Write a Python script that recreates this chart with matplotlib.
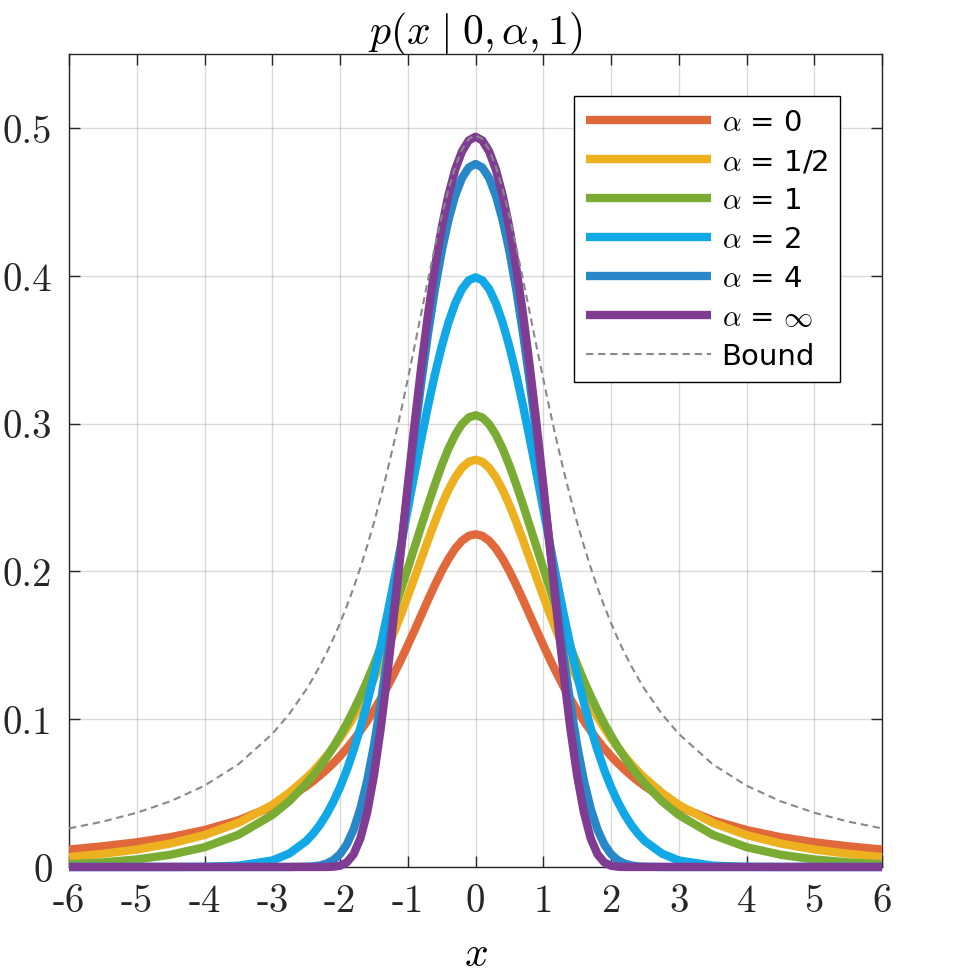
import numpy as np
import matplotlib.pyplot as plt

plt.rcParams['mathtext.fontset'] = 'cm'

# sample positions (fine in the core, coarse in the tails)
x = [-6, -5.5, -5, -4.5, -4, -3.5, -3, -2.75, -2.5, -2.4, -2.3, -2.2, -2.1, -2, -1.9, -1.8, -1.7,
     -1.6, -1.5, -1.4, -1.3, -1.2, -1.1, -1, -0.9, -0.8, -0.7, -0.6, -0.5, -0.4, -0.3, -0.2, -0.1,
     0, 0.1, 0.2, 0.3, 0.4, 0.5, 0.6, 0.7, 0.8, 0.9, 1, 1.1, 1.2, 1.3, 1.4, 1.5, 1.6, 1.7, 1.8,
     1.9, 2, 2.1, 2.2, 2.3, 2.4, 2.5, 2.75, 3, 3.5, 4, 4.5, 5, 5.5, 6]

p_a0 = [0.0118, 0.0140, 0.0167, 0.0202, 0.0250, 0.0316, 0.0409, 0.0471, 0.0546, 0.0580, 0.0618,
        0.0658, 0.0702, 0.0750, 0.0802, 0.0859, 0.0921, 0.0987, 0.1059, 0.1137, 0.1220, 0.1309,
        0.1402, 0.1501, 0.1602, 0.1705, 0.1808, 0.1908, 0.2001, 0.2084, 0.2154, 0.2207, 0.2240,
        0.2251,
        0.2240, 0.2207, 0.2154, 0.2084, 0.2001, 0.1908, 0.1808, 0.1705, 0.1602, 0.1501, 0.1402,
        0.1309, 0.1220, 0.1137, 0.1059, 0.0987, 0.0921, 0.0859, 0.0802, 0.0750, 0.0702, 0.0658,
        0.0618, 0.0580, 0.0546, 0.0471, 0.0409, 0.0316, 0.0250, 0.0202, 0.0167, 0.0140, 0.0118]

p_a05 = [0.0067, 0.0089, 0.0118, 0.0159, 0.0216, 0.0299, 0.0420, 0.0502, 0.0601, 0.0646, 0.0696,
         0.0750, 0.0808, 0.0871, 0.0940, 0.1014, 0.1094, 0.1180, 0.1273, 0.1372, 0.1478, 0.1590,
         0.1708, 0.1831, 0.1957, 0.2085, 0.2212, 0.2334, 0.2449, 0.2551, 0.2636, 0.2701, 0.2741,
         0.2755,
         0.2741, 0.2701, 0.2636, 0.2551, 0.2449, 0.2334, 0.2212, 0.2085, 0.1957, 0.1831, 0.1708,
         0.1590, 0.1478, 0.1372, 0.1273, 0.1180, 0.1094, 0.1014, 0.0940, 0.0871, 0.0808, 0.0750,
         0.0696, 0.0646, 0.0601, 0.0502, 0.0420, 0.0299, 0.0216, 0.0159, 0.0118, 0.0089, 0.0067]

p_a1 = [0.0019, 0.0031, 0.0051, 0.0083, 0.0134, 0.0218, 0.0352, 0.0445, 0.0563, 0.0617, 0.0676,
        0.0741, 0.0812, 0.0888, 0.0970, 0.1060, 0.1156, 0.1259, 0.1369, 0.1487, 0.1611, 0.1742,
        0.1879, 0.2020, 0.2164, 0.2308, 0.2451, 0.2588, 0.2716, 0.2830, 0.2924, 0.2996, 0.3041,
        0.3056,
        0.3041, 0.2996, 0.2924, 0.2830, 0.2716, 0.2588, 0.2451, 0.2308, 0.2164, 0.2020, 0.1879,
        0.1742, 0.1611, 0.1487, 0.1369, 0.1259, 0.1156, 0.1060, 0.0970, 0.0888, 0.0812, 0.0741,
        0.0676, 0.0617, 0.0563, 0.0445, 0.0352, 0.0218, 0.0134, 0.0083, 0.0051, 0.0031, 0.0019]

p_a2 = [0, 0, 0, 0, 0.0001, 0.0009, 0.0044, 0.0091, 0.0175, 0.0224, 0.0283,
        0.0355, 0.0440, 0.0540, 0.0656, 0.0790, 0.0940, 0.1109, 0.1295, 0.1497, 0.1714, 0.1942,
        0.2178, 0.2420, 0.2661, 0.2897, 0.3122, 0.3332, 0.3520, 0.3683, 0.3813, 0.3910, 0.3969,
        0.3989,
        0.3969, 0.3910, 0.3813, 0.3683, 0.3520, 0.3332, 0.3122, 0.2897, 0.2661, 0.2420, 0.2178,
        0.1942, 0.1714, 0.1497, 0.1295, 0.1109, 0.0940, 0.0790, 0.0656, 0.0540, 0.0440, 0.0355,
        0.0283, 0.0224, 0.0175, 0.0091, 0.0044, 0.0009, 0.0001, 0, 0, 0, 0]

p_a4 = [0, 0, 0, 0, 0, 0, 0, 0, 0.0002, 0.0004, 0.0010,
        0.0023, 0.0046, 0.0087, 0.0153, 0.0253, 0.0395, 0.0583, 0.0820, 0.1104, 0.1430, 0.1786,
        0.2163, 0.2546, 0.2922, 0.3281, 0.3612, 0.3908, 0.4165, 0.4376, 0.4542, 0.4661, 0.4732,
        0.4756,
        0.4732, 0.4661, 0.4542, 0.4376, 0.4165, 0.3908, 0.3612, 0.3281, 0.2922, 0.2546, 0.2163,
        0.1786, 0.1430, 0.1104, 0.0820, 0.0583, 0.0395, 0.0253, 0.0153, 0.0087, 0.0046, 0.0023,
        0.0010, 0.0004, 0.0002, 0, 0, 0, 0, 0, 0, 0, 0]

p_inf = [0, 0, 0, 0, 0, 0, 0, 0, 0, 0, 0,
         0, 0.0002, 0.0008, 0.0031, 0.0086, 0.0193, 0.0368, 0.0617, 0.0935, 0.1309, 0.1721,
         0.2151, 0.2582, 0.2998, 0.3388, 0.3743, 0.4056, 0.4324, 0.4545, 0.4718, 0.4841, 0.4915,
         0.4940,
         0.4915, 0.4841, 0.4718, 0.4545, 0.4324, 0.4056, 0.3743, 0.3388, 0.2998, 0.2582, 0.2151,
         0.1721, 0.1309, 0.0935, 0.0617, 0.0368, 0.0193, 0.0086, 0.0031, 0.0008, 0.0002, 0,
         0, 0, 0, 0, 0, 0, 0, 0, 0, 0, 0]

bound = [0.0261, 0.0307, 0.0367, 0.0445, 0.0550, 0.0695, 0.0900, 0.1035, 0.1200, 0.1276, 0.1358,
         0.1447, 0.1544, 0.1650, 0.1765, 0.1889, 0.2025, 0.2171, 0.2329, 0.2500, 0.2683, 0.2878,
         0.3084, 0.3300, 0.3523, 0.3750, 0.3976, 0.4195, 0.4400, 0.4583, 0.4737, 0.4853, 0.4925,
         0.4950,
         0.4925, 0.4853, 0.4737, 0.4583, 0.4400, 0.4195, 0.3976, 0.3750, 0.3523, 0.3300, 0.3084,
         0.2878, 0.2683, 0.2500, 0.2329, 0.2171, 0.2025, 0.1889, 0.1765, 0.1650, 0.1544, 0.1447,
         0.1358, 0.1276, 0.1200, 0.1035, 0.0900, 0.0695, 0.0550, 0.0445, 0.0367, 0.0307, 0.0261]

labels = [r'$\alpha$ = 0', r'$\alpha$ = 1/2', r'$\alpha$ = 1', r'$\alpha$ = 2',
          r'$\alpha$ = 4', r'$\alpha$ = $\infty$']
colors = ['#E0683A', '#EDB120', '#7AAC34', '#10A8E6', '#2887C8', '#803B92']
xticks = [-6, -5, -4, -3, -2, -1, 0, 1, 2, 3, 4, 5, 6]
yticks = [0, 0.1, 0.2, 0.3, 0.4, 0.5]

fig = plt.figure(figsize=(9.55, 9.78), dpi=100)
ax = fig.add_axes([0.0723, 0.1125, 0.8513, 0.8313])

for ys, lab, c in zip([p_a0, p_a05, p_a1, p_a2, p_a4, p_inf], labels, colors):
    ax.plot(x, ys, color=c, lw=6, label=lab, solid_capstyle='butt',
            solid_joinstyle='round', clip_on=False, zorder=3)
ax.plot(x, bound, color='#888888', lw=1.5, ls='--', dashes=(3.5, 2.3),
        label='Bound', zorder=4)

ax.set_xlim(-6, 6)
ax.set_ylim(0, 0.55)
ax.set_xticks(xticks)
ax.set_yticks(yticks)
ax.set_xticklabels([str(v) for v in xticks], fontfamily='cmr10')
ax.set_yticklabels(['0'] + [str(v) for v in yticks[1:]], fontfamily='cmr10')
ax.tick_params(direction='in', length=8, width=1, top=True, right=True,
               labelsize=28, pad=12, color='#262626', labelcolor='#262626')
ax.grid(True, color='black', alpha=0.15, lw=1)
for s in ax.spines.values():
    s.set_linewidth(1)
    s.set_color('#262626')
    s.set_zorder(2.5)

ax.set_title(r'$p(x\;|\;0, \alpha, 1)$', fontsize=30, pad=8)
ax.set_xlabel(r'$x$', fontsize=30, labelpad=9)

leg = ax.legend(loc='upper right', fontsize=21, frameon=True, fancybox=False,
                edgecolor='black', framealpha=1, borderaxespad=1.45,
                handlelength=4.3, handletextpad=0.35, labelspacing=0.38,
                borderpad=0.4)
leg.get_frame().set_linewidth(1)

fig.savefig('out.png', dpi=100)
